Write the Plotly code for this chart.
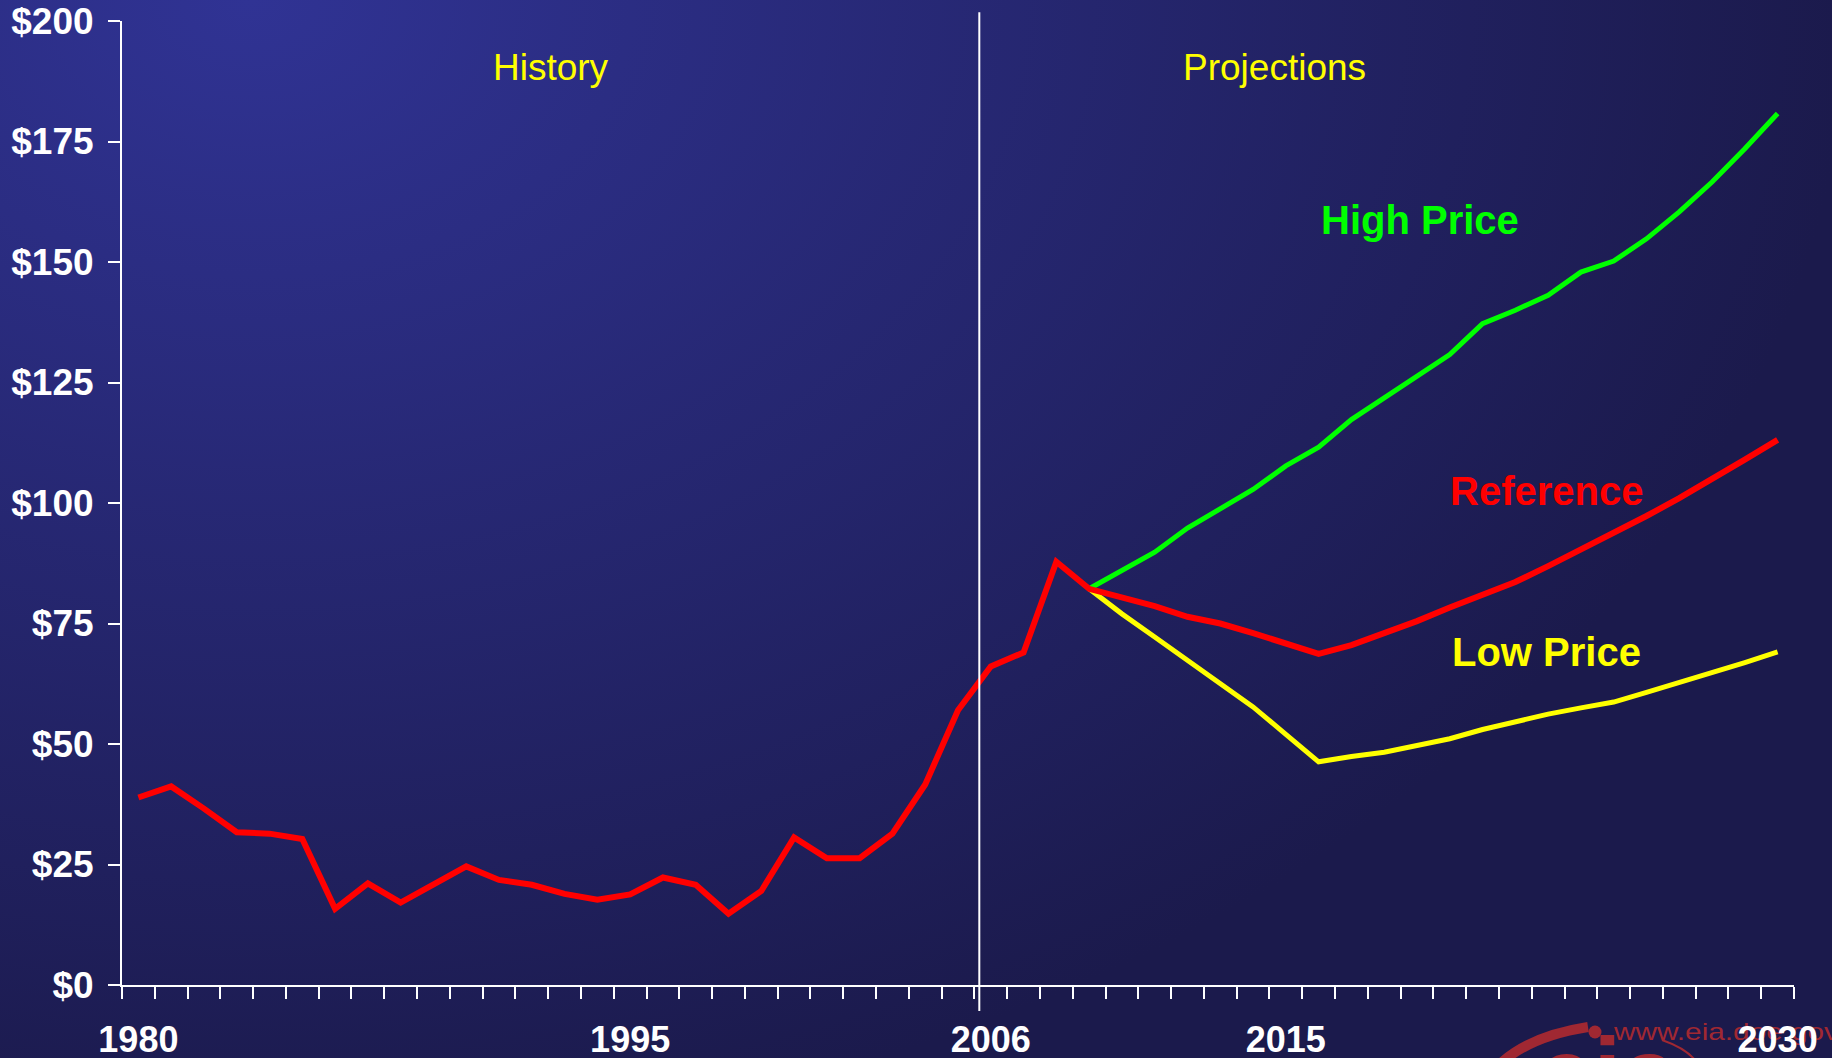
import base64
import plotly.graph_objects as go

# ---------------- data ----------------
hist_years = list(range(1980, 2010))
hist_price = [38.9, 41.2, 36.6, 31.7, 31.4, 30.3, 15.8, 21.1, 17.1, 20.8,
              24.6, 21.8, 20.8, 18.9, 17.7, 18.8, 22.3, 20.8, 14.8, 19.5,
              30.6, 26.3, 26.3, 31.4, 41.6, 57.0, 66.1, 69.0, 87.8, 82.2]

proj_years = list(range(2009, 2031))
reference = [82.2, 80.4, 78.6, 76.4, 75.0, 73.0, 70.7, 68.7, 70.5, 72.9, 75.5,
             78.3, 80.9, 83.6, 86.9, 90.3, 93.8, 97.3, 101.0, 104.9, 109.0, 113.1]
high_price = [82.2, 86.1, 89.8, 94.8, 98.8, 102.8, 107.7, 111.6, 117.3, 121.7, 126.3,
              130.8, 137.2, 140.0, 143.1, 147.9, 150.2, 154.8, 160.4, 166.6, 173.5, 180.8]
low_price = [82.2, 77.0, 72.2, 67.4, 62.5, 57.7, 52.0, 46.3, 47.4, 48.3, 49.7,
             51.1, 53.0, 54.6, 56.2, 57.5, 58.7, 60.7, 62.7, 64.7, 66.9, 69.1]

x_tick_years = [1980, 1995, 2006, 2015, 2030]
x_tick_text = ["1980", "1995", "2006", "2015", "2030"]
y_tick_vals = [0, 25, 50, 75, 100, 125, 150, 175, 200]
y_tick_text = ["$0", "$25", "$50", "$75", "$100", "$125", "$150", "$175", "$200"]

# ---------------- figure geometry ----------------
W, H = 1832, 1058
ML, MR, MT, MB = 122, 38, 21, 73
PW, PH = W - ML - MR, H - MT - MB

FONT = "Arial, Liberation Sans, sans-serif"
WM = "rgb(160,40,50)"

# background gradient + faint logo watermark, as one SVG image behind everything
bg_svg = f"""<svg xmlns="http://www.w3.org/2000/svg" width="{W}" height="{H}" viewBox="0 0 {W} {H}">
<defs>
<radialGradient id="g" gradientUnits="userSpaceOnUse" cx="250" cy="0" r="1600"
 gradientTransform="translate(250 0) scale(1 0.72) translate(-250 0)">
<stop offset="0" stop-color="rgb(48,51,148)"/>
<stop offset="1" stop-color="rgb(27,26,76)"/>
</radialGradient>
</defs>
<rect x="0" y="0" width="{W}" height="{H}" fill="url(#g)"/>
<g fill="none" stroke="{WM}" stroke-linecap="butt">
<path d="M 1588 1027 Q 1530 1036 1500 1064" stroke-width="10"/>
<path d="M 1662 1040 Q 1685 1048 1695 1060" stroke-width="2"/>
</g>
<circle cx="1595" cy="1032" r="6.5" fill="{WM}"/>
<text x="1614" y="1040" font-family="Arial, Liberation Sans, sans-serif" font-size="24"
 fill="{WM}" textLength="225" lengthAdjust="spacingAndGlyphs">www.eia.doe.gov</text>
<text x="1538" y="1108" font-family="Arial, Liberation Sans, sans-serif" font-weight="bold"
 font-size="100" fill="{WM}">eia</text>
</svg>"""
bg_uri = "data:image/svg+xml;base64," + base64.b64encode(bg_svg.encode()).decode()

fig = go.Figure()

fig.add_trace(go.Scatter(x=proj_years, y=low_price, mode="lines",
                         line=dict(color="#FFFF00", width=5), showlegend=False))
fig.add_trace(go.Scatter(x=proj_years, y=high_price, mode="lines",
                         line=dict(color="#00FF00", width=5), showlegend=False))
fig.add_trace(go.Scatter(x=hist_years + proj_years[1:], y=hist_price + reference[1:],
                         mode="lines", line=dict(color="#FF0000", width=6),
                         showlegend=False))

# divider line between history and projections
fig.add_shape(type="line", xref="x", yref="paper", x0=2005.65, x1=2005.65,
              y0=-0.027, y1=1.009, line=dict(color="white", width=2))

def label(text, x, y, color, size, bold):
    fig.add_annotation(x=x, y=y, xref="x", yref="y", text=f"<b>{text}</b>" if bold else text,
                       showarrow=False, xanchor="center", yanchor="middle",
                       font=dict(family=FONT, size=size, color=color))

label("History", 1992.58, 190.3, "#FFFF00", 37, False)
label("Projections", 2014.64, 190.3, "#FFFF00", 37, False)
label("High Price", 2019.09, 158.8, "#00FF00", 40, True)
label("Reference", 2022.94, 102.4, "#FF0000", 40, True)
label("Low Price", 2022.96, 69.0, "#FFFF00", 40, True)

fig.add_layout_image(dict(source=bg_uri, xref="paper", yref="paper",
                          x=-ML / PW, y=1 + MT / PH, sizex=W / PW, sizey=H / PH,
                          xanchor="left", yanchor="top", sizing="stretch", layer="below"))

fig.update_layout(
    width=W, height=H, autosize=False,
    margin=dict(l=ML, r=MR, t=MT, b=MB, pad=0, autoexpand=False),
    paper_bgcolor="rgb(30,30,85)", plot_bgcolor="rgba(0,0,0,0)",
    showlegend=False,
    xaxis=dict(range=[1979.5, 2030.5], tickmode="array", tickvals=x_tick_years,
               ticktext=x_tick_text, ticks="", showgrid=False, zeroline=False,
               showline=True, linecolor="white", linewidth=2, automargin=False,
               ticklabelstandoff=22,
               tickfont=dict(family=FONT, size=36, color="white", weight="bold"),
               minor=dict(tickmode="array",
                          tickvals=[y + 0.5 for y in range(1979, 2031)],
                          ticks="outside", ticklen=12, tickwidth=2, tickcolor="white",
                          showgrid=False)),
    yaxis=dict(range=[0, 200], tickmode="array", tickvals=y_tick_vals, ticktext=y_tick_text,
               ticks="outside", ticklen=12, tickwidth=2, tickcolor="white",
               showgrid=False, zeroline=False, showline=True, linecolor="white", linewidth=2,
               automargin=False, ticklabelstandoff=7,
               tickfont=dict(family=FONT, size=37, color="white", weight="bold")),
)

fig.write_html("out.html", config={"displayModeBar": False},
               post_script="document.body.style.margin='0';document.body.style.overflow='hidden';")
